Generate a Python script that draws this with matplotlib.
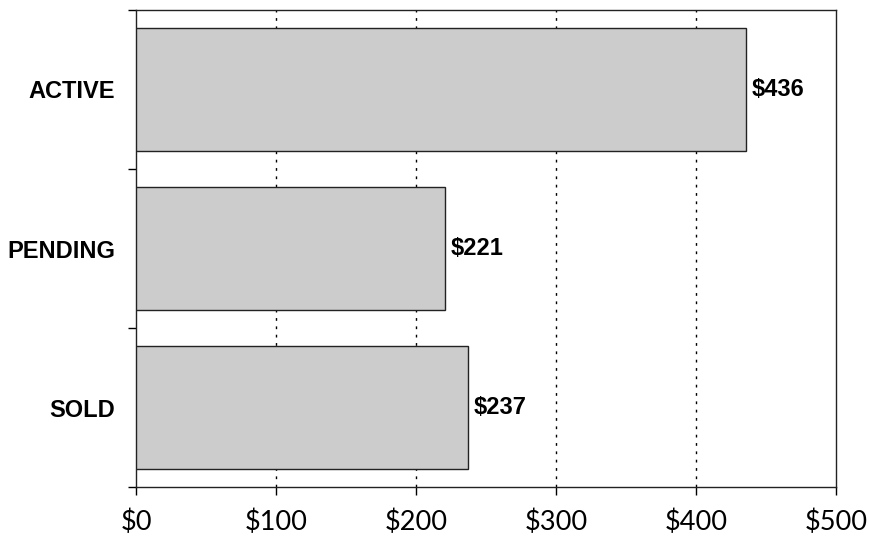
import matplotlib
matplotlib.use('Agg')
import matplotlib.pyplot as plt
from matplotlib.ticker import FuncFormatter

categories = ['ACTIVE', 'PENDING', 'SOLD']
values = [436, 221, 237]
xticks = [0, 100, 200, 300, 400, 500]
gridlines = [100, 200, 300, 400]

fig = plt.figure(figsize=(8.69, 5.40), dpi=100)
ax = fig.add_axes([0.1565, 0.0981, 0.8055, 0.8834])

ypos = list(range(len(categories)))
ax.barh(ypos, values, height=0.77, color='#cccccc', edgecolor='#222222',
        linewidth=1.0, zorder=3)

for y, v in zip(ypos, values):
    ax.text(v + 4, y, '$%d' % v, va='center', ha='left', fontsize=17,
            fontweight='bold', family='Liberation Sans', color='black')

# dotted guides at the inner ticks only
for g in gridlines:
    ax.axvline(g, linestyle=(0, (2, 4)), color='black', linewidth=1, zorder=1)

ax.set_xlim(0, 500)
ax.set_ylim(2.5, -0.5)
ax.set_xticks(xticks)
ax.xaxis.set_major_formatter(FuncFormatter(lambda x, p: '$%d' % x))
for lbl in ax.get_xticklabels():
    lbl.set_family('Lato')
    lbl.set_fontsize(19.5)

# category labels between boundary ticks
ax.set_yticks([-0.5, 0.5, 1.5, 2.5])
ax.set_yticklabels([])
ax.set_yticks(ypos, minor=True)
ax.set_yticklabels(categories, minor=True, fontsize=17, fontweight='bold',
                   family='Liberation Sans')
ax.tick_params(axis='y', which='minor', length=0, pad=15)
ax.tick_params(axis='y', which='major', length=6, width=1, direction='out')
ax.tick_params(axis='x', length=6, width=1, direction='out', pad=10)

for s in ax.spines.values():
    s.set_color('#222222')
    s.set_linewidth(1.0)

fig.savefig('out.png', dpi=100)
